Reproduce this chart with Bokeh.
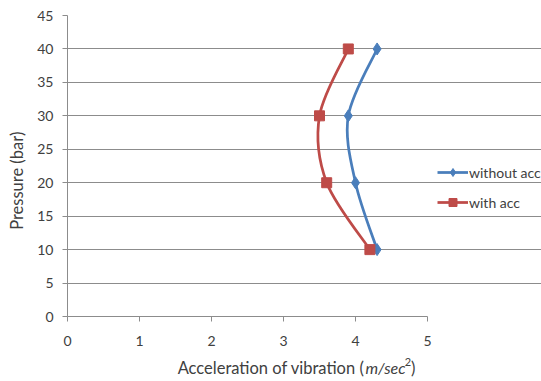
import numpy as np
from bokeh.plotting import figure
from bokeh.layouts import column
from bokeh.models import Range1d, FixedTicker, Legend, LegendItem
from bokeh.core.properties import value
from bokeh.embed import file_html
from bokeh.resources import INLINE

# ---- data ----
pressure = [10, 20, 30, 40]
without_acc = [4.3, 4.0, 3.9, 4.3]
with_acc = [4.2, 3.6, 3.5, 3.9]
x_ticks = [0, 1, 2, 3, 4, 5]
y_ticks = [0, 5, 10, 15, 20, 25, 30, 35, 40, 45]
series_names = ["without acc", "with acc"]
y_title = "Pressure (bar)"
x_title_parts = ["Acceleration of vibration (", "m/sec", "2", ")"]

FONT = "Lato"
TXT = "#404040"
BLUE = "#4A7EBB"
RED = "#BE4B48"
GRID = "#8C8C8C"

# frame spans 67..541 px; data axis runs 0..5 over 360 px, the rest holds the legend
X_MAX = 5 + 114 / 72.0

p = figure(width=541, height=350, output_backend="svg", toolbar_location=None,
           x_range=Range1d(0, X_MAX), y_range=Range1d(0, 45),
           min_border_left=67, min_border_right=0,
           min_border_top=15, min_border_bottom=34)
p.outline_line_color = None
p.background_fill_color = "white"
p.border_fill_color = "white"

p.xgrid.grid_line_color = None
p.ygrid.grid_line_color = GRID
p.ygrid.grid_line_width = 1
p.ygrid.ticker = FixedTicker(ticks=y_ticks)
p.ygrid.bounds = (0, 5)

for ax in (p.xaxis[0], p.yaxis[0]):
    ax.axis_line_color = GRID
    ax.major_tick_line_color = GRID
    ax.minor_tick_line_color = None
    ax.major_tick_in = 0
    ax.major_tick_out = 5
    ax.major_label_text_font = FONT
    ax.major_label_text_font_size = "14px"
    ax.major_label_text_color = TXT

p.xaxis.ticker = FixedTicker(ticks=x_ticks)
p.xaxis.bounds = (0, 5)
p.yaxis.ticker = FixedTicker(ticks=y_ticks)
p.xaxis.major_label_standoff = 14
p.yaxis.major_label_standoff = 9

# trailing no-break spaces push the rotated title a little lower, as in the reference
p.yaxis.axis_label = y_title + "\u00a0" * 7
p.yaxis.axis_label_text_font = FONT
p.yaxis.axis_label_text_font_size = "16.5px"
p.yaxis.axis_label_text_font_style = "normal"
p.yaxis.axis_label_text_color = TXT
p.yaxis.axis_label_standoff = 7


def smooth_bezier(xs, ys):
    """Excel-style smoothed line: Catmull-Rom control points from the data."""
    xs = np.asarray(xs, float)
    ys = np.asarray(ys, float)
    n = len(xs)
    X = np.concatenate([[xs[0]], xs, [xs[-1]]])
    Y = np.concatenate([[ys[0]], ys, [ys[-1]]])
    out = {k: [] for k in ("x0", "y0", "x1", "y1", "cx0", "cy0", "cx1", "cy1")}
    for i in range(1, n):
        out["x0"].append(X[i]); out["y0"].append(Y[i])
        out["x1"].append(X[i + 1]); out["y1"].append(Y[i + 1])
        out["cx0"].append(X[i] + (X[i + 1] - X[i - 1]) / 6)
        out["cy0"].append(Y[i] + (Y[i + 1] - Y[i - 1]) / 6)
        out["cx1"].append(X[i + 1] - (X[i + 2] - X[i]) / 6)
        out["cy1"].append(Y[i + 1] - (Y[i + 2] - Y[i]) / 6)
    return out


b1 = p.bezier(source=smooth_bezier(without_acc, pressure), x0="x0", y0="y0", x1="x1", y1="y1",
              cx0="cx0", cy0="cy0", cx1="cx1", cy1="cy1", line_color=BLUE, line_width=2.75)
b2 = p.bezier(source=smooth_bezier(with_acc, pressure), x0="x0", y0="y0", x1="x1", y1="y1",
              cx0="cx0", cy0="cy0", cx1="cx1", cy1="cy1", line_color=RED, line_width=2.75)
s1 = p.scatter(without_acc, pressure, marker="diamond", size=12,
               fill_color=BLUE, line_color=BLUE)
s2 = p.scatter(with_acc, pressure, marker="square", size=10,
               fill_color=RED, line_color=RED)

legend = Legend(items=[LegendItem(label=series_names[0], renderers=[b1, s1]),
                       LegendItem(label=series_names[1], renderers=[b2, s2])],
                location=(370, 104), orientation="vertical")
legend.background_fill_alpha = 0
legend.border_line_color = None
legend.margin = 0
legend.padding = 0
legend.spacing = 10
legend.glyph_width = 31
legend.glyph_height = 20
legend.label_height = 20
legend.label_standoff = 1
legend.label_text_font = FONT
legend.label_text_font_size = "14px"
legend.label_text_color = TXT
p.add_layout(legend, "center")

# strip below the plot holding the x-axis title (normal + italic + superscript parts)
q = figure(width=541, height=31, output_backend="svg", toolbar_location=None,
           x_range=Range1d(0, 541), y_range=Range1d(0, 31),
           x_axis_location=None, y_axis_location=None, min_border=0)
q.outline_line_color = None
q.grid.grid_line_color = None
q.border_fill_color = "white"
common = dict(text_font=value(FONT), text_color=TXT, text_baseline="middle")
q.text(x=[339], y=[14], text=[x_title_parts[0]], text_align="right",
       text_font_size="16.5px", **common)
q.text(x=[340], y=[14], text=[x_title_parts[1]], text_align="left",
       text_font_size="16px", text_font_style="italic", **common)
q.text(x=[385], y=[19.5], text=[x_title_parts[2]], text_align="left",
       text_font_size="11px", **common)
q.text(x=[392], y=[14], text=[x_title_parts[3]], text_align="left",
       text_font_size="16.5px", **common)

layout = column(p, q, spacing=0)
open("out.html", "w").write(file_html(layout, INLINE))
